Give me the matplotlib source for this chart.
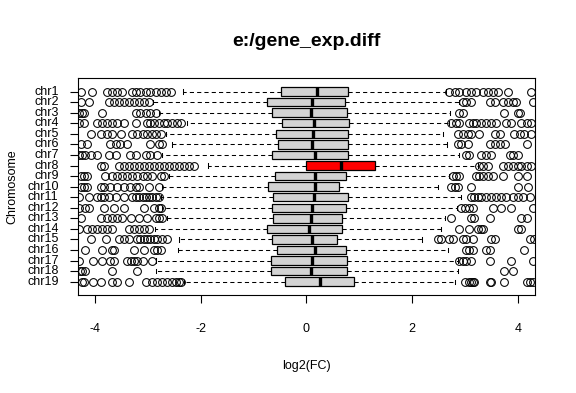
"""
plot.py
Per-chromosome boxplot of log2 fold changes (R-style horizontal boxplot).
"""

import matplotlib
matplotlib.use("Agg")
import matplotlib.pyplot as plt

plt.rcParams["font.family"] = ["Liberation Sans", "DejaVu Sans"]

# ── Data ──────────────────────────────────────────────────────────

chromosomes = [f"chr{i}" for i in range(1, 20)]

q1     = [-0.49, -0.75, -0.66, -0.47, -0.58, -0.54, -0.66, -0.01, -0.60, -0.73,
          -0.64, -0.66, -0.64, -0.75, -0.66, -0.56, -0.67, -0.67, -0.41]
median = [0.19, 0.11, 0.08, 0.15, 0.13, 0.11, 0.17, 0.66, 0.17, 0.17,
          0.15, 0.10, 0.08, 0.04, 0.10, 0.17, 0.10, 0.08, 0.25]
q3     = [0.78, 0.72, 0.76, 0.81, 0.78, 0.78, 0.78, 1.29, 0.74, 0.61,
          0.78, 0.74, 0.68, 0.68, 0.57, 0.74, 0.76, 0.76, 0.89]
whis_lo = [-2.33, -2.90, -2.78, -2.25, -2.66, -2.54, -2.73, -1.87, -2.59, -2.73,
           -2.76, -2.73, -2.63, -2.87, -2.41, -2.42, -2.85, -2.84, -2.32]
whis_hi = [2.64, 2.89, 2.72, 2.69, 2.59, 2.65, 2.88, 3.24, 2.69, 2.49,
           2.92, 2.85, 2.61, 2.55, 2.18, 2.67, 2.86, 2.87, 2.81]

outliers = [
    [-4.27, -4.05, -3.77, -3.67, -3.58, -3.48, -3.29, -3.22, -3.14, -3.04, -2.95,
     -2.85, -2.76, -2.66, -2.57,
     2.70, 2.80, 2.89, 3.02, 3.11, 3.21, 3.33, 3.43, 3.52, 3.62, 3.81, 4.25],
    [-4.27, -4.11, -3.74, -3.64, -3.55, -3.45, -3.36, -3.26, -3.17, -3.07, -2.98,
     2.96, 3.02, 3.11, 3.46, 3.56, 3.71, 3.81, 3.90, 3.97, 4.28],
    [-4.30, -4.25, -4.20, -3.86, -3.23, -3.14, -3.04, -2.95, -2.85,
     2.89, 2.96, 3.74, 3.99, 4.04],
    [-4.30, -4.21, -3.96, -3.86, -3.77, -3.67, -3.58, -3.45, -3.23, -3.01, -2.95,
     -2.89, -2.79, -2.70, -2.63, -2.54, -2.44, -2.38,
     2.73, 2.83, 2.89, 3.08, 3.14, 3.21, 3.30, 3.40, 3.49, 3.59, 3.78, 3.87,
     4.06, 4.16, 4.25],
    [-4.08, -3.89, -3.77, -3.67, -3.51, -3.29, -3.20, -3.10, -3.01, -2.92, -2.85,
     -2.76,
     2.86, 2.96, 3.05, 3.11, 3.27, 3.56, 3.65, 3.93, 4.03, 4.12, 4.25],
    [-4.27, -4.15, -3.71, -3.61, -3.52, -3.39, -2.95, -2.79, -2.73,
     2.86, 2.92, 3.05, 3.46, 3.56, 3.65, 3.75, 4.16],
    [-4.30, -4.24, -4.18, -4.08, -3.96, -3.74, -3.61, -3.33, -3.23, -3.04, -2.95,
     -2.82,
     3.02, 3.08, 3.30, 3.40, 3.49, 3.84, 3.90, 4.00],
    [-3.89, -3.83, -3.55, -3.45, -3.36, -3.26, -3.17, -3.07, -2.98, -2.89, -2.79,
     -2.70, -2.60, -2.51, -2.41, -2.32, -2.22, -2.13,
     3.27, 3.33, 3.43, 3.71, 3.81, 3.90, 4.00, 4.06, 4.16, 4.25],
    [-4.27, -4.21, -4.15, -3.80, -3.67, -3.58, -3.48, -3.39, -3.29, -3.20, -3.10,
     -3.01, -2.92, -2.76, -2.70,
     2.77, 2.83, 2.89, 3.21, 3.27, 3.33, 3.43, 3.52, 3.71, 3.99, 4.16],
    [-4.27, -4.21, -4.15, -3.89, -3.83, -3.71, -3.58, -3.45, -3.33, -3.23, -3.17,
     -2.98, -2.78,
     2.73, 2.80, 2.86, 3.11, 3.99, 4.18],
    [-4.30, -4.11, -3.96, -3.89, -3.83, -3.74, -3.61, -3.45, -3.29, -3.23, -3.17,
     -3.10, -3.04, -2.98, -2.92, -2.85, -2.79,
     3.11, 3.17, 3.24, 3.30, 3.40, 3.49, 3.59, 3.68, 3.78, 3.90, 4.00, 4.09, 4.22],
    [-4.30, -4.18, -4.11, -3.83, -3.64, -3.45, -3.07, -2.89, -2.79, -2.76,
     2.92, 2.99, 3.08, 3.14, 3.52, 3.68, 3.87, 4.28],
    [-4.27, -3.89, -3.77, -3.67, -3.58, -3.48, -3.32, -3.17, -3.01, -2.85, -2.79,
     -2.73,
     2.73, 3.11, 3.17, 3.46, 4.06, 4.16],
    [-4.30, -4.15, -4.05, -3.96, -3.86, -3.77, -3.67, -3.36, -3.26, -3.17, -3.07,
     -2.98,
     2.89, 3.08, 3.24, 3.30, 3.33, 3.99, 4.06],
    [-4.08, -3.79, -3.55, -3.45, -3.36, -3.20, -3.14, -3.07, -3.01, -2.95, -2.89,
     -2.82, -2.73, -2.63,
     2.48, 2.55, 2.70, 2.77, 2.96, 3.02, 3.14, 3.49, 3.56, 4.22, 4.30],
    [-4.18, -3.86, -3.67, -3.64, -3.26, -3.07, -2.89, -2.82, -2.76,
     3.02, 3.08, 3.14, 3.40, 3.46, 4.12],
    [-4.30, -4.04, -3.87, -3.71, -3.64, -3.39, -3.32, -3.26, -3.20, -3.10, -2.92,
     2.89, 2.96, 3.02, 3.11, 3.46, 3.87, 4.28],
    [-4.29, -4.25, -4.18, -3.67, -3.21,
     3.74, 3.90],
    [-4.24, -4.21, -4.04, -3.89, -3.67, -3.58, -3.36, -3.04, -2.92, -2.82, -2.73,
     -2.63, -2.54, -2.47, -2.41, -2.38,
     2.99, 3.08, 3.11, 3.14, 3.17, 3.46, 3.49, 3.74, 4.16, 4.22, 4.28],
]

highlight = "chr8"

x_ticks = [-4, -2, 0, 2, 4]

# ── Plot ──────────────────────────────────────────────────────────

stats = [
    {"label": name, "q1": a, "med": m, "q3": b,
     "whislo": lo, "whishi": hi, "fliers": fl}
    for name, a, m, b, lo, hi, fl in zip(
        chromosomes, q1, median, q3, whis_lo, whis_hi, outliers)
]
positions = list(range(1, len(chromosomes) + 1))

fig = plt.figure(figsize=(5.76, 3.93), dpi=100)
ax = fig.add_axes([0.1354, 0.2494, 0.9288 - 0.1354, 0.8008 - 0.2494])

bp = ax.bxp(
    stats,
    positions=positions,
    orientation="horizontal",
    widths=0.8,
    capwidths=0.4,
    patch_artist=True,
    boxprops=dict(facecolor="#D3D3D3", edgecolor="black", linewidth=0.9),
    medianprops=dict(color="black", linewidth=2.4, solid_capstyle="butt"),
    whiskerprops=dict(color="black", linewidth=0.75, linestyle=(0, (4, 3))),
    capprops=dict(color="black", linewidth=0.75),
    flierprops=dict(marker="o", markersize=5.6, markerfacecolor="none",
                    markeredgecolor="black", markeredgewidth=0.75,
                    linestyle="none"),
)

for box, name in zip(bp["boxes"], chromosomes):
    if name == highlight:
        box.set_facecolor("red")

ax.set_xlim(-4.32, 4.32)
ax.set_ylim(20.26, -0.26)

ax.set_xticks(x_ticks)
ax.set_xticklabels([str(t) for t in x_ticks])
ax.set_yticks(positions)
ax.set_yticklabels(chromosomes)

ax.tick_params(axis="x", length=6, width=0.8, pad=14, labelsize=9)
ax.tick_params(axis="y", length=6, width=0.8, pad=8, labelsize=9)
for label in ax.get_yticklabels():
    label.set_verticalalignment("center")

for spine in ax.spines.values():
    spine.set_linewidth(0.8)

ax.set_xlabel("log2(FC)", fontsize=9, labelpad=18)
ax.set_ylabel("Chromosome", fontsize=9, labelpad=6)
fig.suptitle("e:/gene_exp.diff", fontsize=14, fontweight="bold",
             x=0.532, y=0.915)

fig.savefig("out.png", dpi=100)
